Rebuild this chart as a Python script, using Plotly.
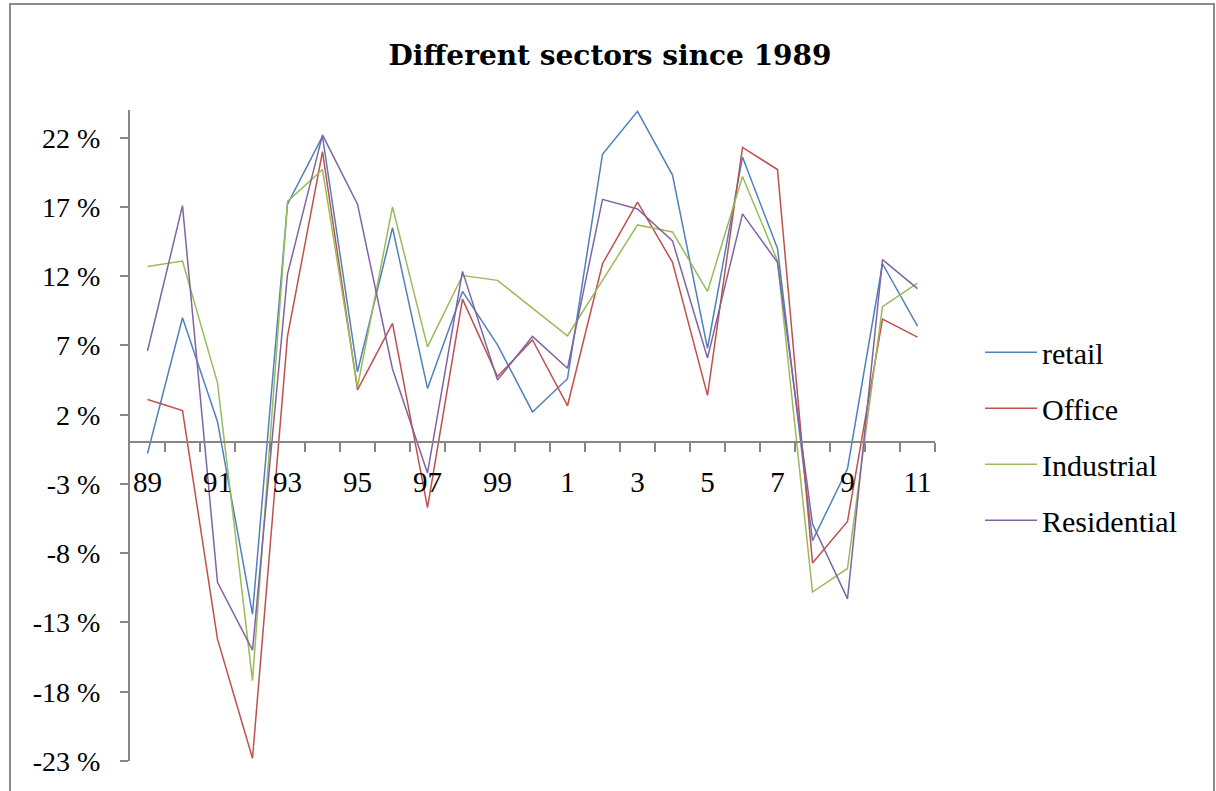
import plotly.graph_objects as go

# Year labels (two-digit style, as on the category axis)
years = ["89", "90", "91", "92", "93", "94", "95", "96", "97", "98", "99",
         "0", "1", "2", "3", "4", "5", "6", "7", "8", "9", "10", "11"]

# Annual returns by sector, in percent
retail = [-0.8, 9.0, 1.5, -12.4, 17.2, 22.1, 5.1, 15.5, 3.9, 10.9, 7.05, 2.2,
          4.6, 20.8, 23.9, 19.3, 6.8, 20.6, 14.0, -7.1, -1.9, 12.9, 8.4]
office = [3.1, 2.3, -14.2, -22.8, 7.65, 21.0, 3.8, 8.6, -4.7, 10.35, 4.75, 7.4,
          2.65, 12.9, 17.35, 13.0, 3.4, 21.3, 19.7, -8.7, -5.7, 8.9, 7.6]
industrial = [12.7, 13.1, 4.3, -17.2, 17.4, 19.7, 4.0, 17.0, 6.9, 12.05, 11.7, 9.7,
              7.7, 11.7, 15.7, 15.2, 10.9, 19.2, 13.1, -10.8, -9.1, 9.8, 11.5]
residential = [6.6, 17.1, -10.1, -15.0, 12.15, 22.2, 17.2, 5.3, -2.2, 12.35, 4.5, 7.65,
               5.35, 17.55, 16.85, 14.55, 6.1, 16.5, 13.0, -5.9, -11.3, 13.2, 11.1]

series_names = ["retail", "Office", "Industrial", "Residential"]
series_values = [retail, office, industrial, residential]
colors = ["#4F81BD", "#C0504D", "#9BBB59", "#8064A2"]

y_ticks = [22, 17, 12, 7, 2, -3, -8, -13, -18, -23]
y_min, y_max = -23, 24

FONT = "Liberation Serif"
TITLE_FONT = "DejaVu Serif"
AXIS_GREY = "#868686"

x = list(range(len(years)))

fig = go.Figure()
for name, vals, col in zip(series_names, series_values, colors):
    fig.add_trace(go.Scatter(
        x=x, y=vals, name=name, mode="lines",
        line=dict(color=col, width=1.5),
        legendgroup=name,
    ))

# horizontal axis crosses the vertical one at zero
zero_pos = (0 - y_min) / (y_max - y_min)

fig.update_layout(
    width=1216, height=791,
    autosize=False,
    margin=dict(l=130, r=281, t=110, b=30),
    paper_bgcolor="white",
    plot_bgcolor="white",
    font=dict(family=FONT, size=26, color="black"),
    title=dict(
        text="<b>Different sectors since 1989</b>",
        font=dict(family=TITLE_FONT, size=28, color="black"),
        xref="container", x=610 / 1216, xanchor="center",
        yref="container", y=1 - 55 / 791, yanchor="middle",
    ),
    xaxis=dict(
        range=[-0.5, len(years) - 0.5],
        anchor="free", position=zero_pos,
        showline=True, linecolor=AXIS_GREY, linewidth=2,
        showgrid=False, zeroline=False,
        tickmode="array",
        tickvals=x[::2], ticktext=years[::2],
        ticks="", ticklabelstandoff=14,
        tickfont=dict(family=FONT, size=29, color="black"),
        minor=dict(
            tickmode="array",
            tickvals=[i + 0.5 for i in range(len(years))],
            ticks="outside", ticklen=9, tickwidth=2, tickcolor=AXIS_GREY,
            showgrid=False,
        ),
    ),
    yaxis=dict(
        range=[y_min, y_max],
        showline=True, linecolor=AXIS_GREY, linewidth=2,
        showgrid=False, zeroline=False,
        tickmode="array",
        tickvals=y_ticks, ticktext=[f"{v} %" for v in y_ticks],
        ticks="outside", ticklen=8, tickwidth=2, tickcolor=AXIS_GREY,
        ticklabelstandoff=14,
        tickfont=dict(family=FONT, size=28, color="black"),
    ),
    legend=dict(
        x=(980 - 130) / 805, xanchor="left",
        y=0.499, yanchor="middle",
        bgcolor="rgba(0,0,0,0)",
        font=dict(family=FONT, size=30, color="black"),
        itemwidth=52,
        tracegroupgap=14,
    ),
    showlegend=True,
)

# outer chart frame
fig.add_shape(
    type="rect", xref="paper", yref="paper",
    x0=(10 - 130) / 805, x1=(1214 - 130) / 805,
    y0=-(800 - 761) / 651, y1=1 + (110 - 4) / 651,
    line=dict(color="#8C8C8C", width=2),
    fillcolor="rgba(0,0,0,0)",
    layer="below",
)

fig.write_html("out.html")
